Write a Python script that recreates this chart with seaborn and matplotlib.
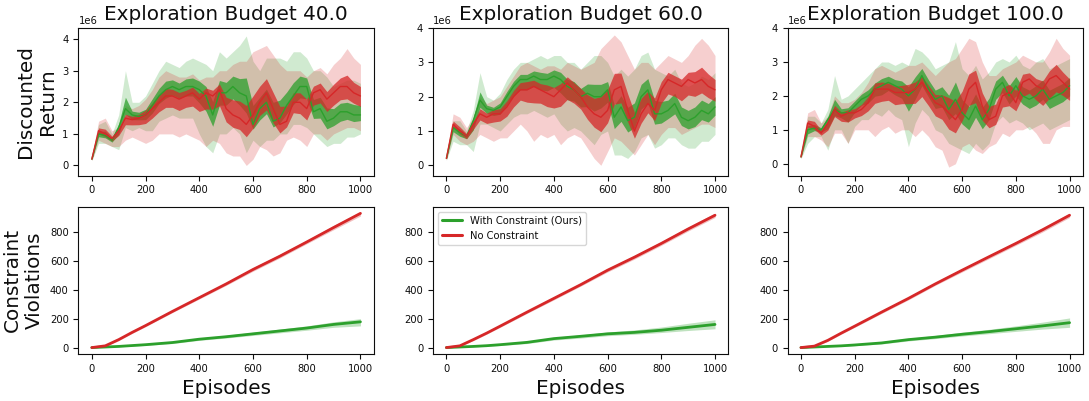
import matplotlib
matplotlib.use('Agg')
import matplotlib.pyplot as plt
import pandas as pd
import numpy as np
import seaborn as sns

sns.set_style('ticks')
plt.rcParams['font.family'] = ['DejaVu Sans']
plt.rcParams.update({'text.color': '.05', 'axes.labelcolor': '.05', 'xtick.color': '.05',
                     'ytick.color': '.05', 'axes.edgecolor': '.05'})

episodes_top = list(range(0, 1001, 25))
episodes_bot = [0, 50, 100, 150, 200, 300, 400, 500, 600, 700, 800, 900, 1000]

budgets = ['40.0', '60.0', '100.0']
methods = ['With Constraint (Ours)', 'No Constraint']
colors = {'With Constraint (Ours)': '#2ca02c', 'No Constraint': '#d62728'}

# discounted return, in millions (mean, lower envelope, upper envelope)
green_40_mean = [0.2, 1.0, 0.95, 0.8, 1.2, 1.8, 1.6, 1.55, 1.6, 1.9, 2.2, 2.4, 2.5, 2.4, 2.5, 2.5, 2.4, 2.2, 1.6, 2.3,
                 2.3, 2.5, 2.3, 2.2, 1.3, 1.8, 2.0, 1.4, 1.5, 1.9, 2.2, 2.5, 2.5, 1.7, 1.8, 1.4, 1.5, 1.7, 1.7, 1.6, 1.6]
green_40_lo = [0.15, 0.7, 0.7, 0.6, 0.5, 1.2, 1.1, 1.2, 1.1, 1.1, 1.4, 1.5, 1.6, 1.5, 1.5, 1.5, 1.0, 0.6, 0.4, 1.0,
               1.0, 1.2, 1.0, 0.4, 0.8, 0.6, 0.8, 0.8, 1.0, 1.0, 1.3, 1.3, 1.2, 1.0, 0.8, 0.6, 0.7, 0.7, 0.9, 0.9, 1.0]
green_40_hi = [0.3, 1.3, 1.4, 1.0, 1.6, 3.0, 2.0, 2.0, 2.2, 2.6, 3.0, 3.3, 3.2, 3.1, 3.3, 3.4, 3.3, 3.2, 3.0, 3.6,
               3.4, 3.6, 3.8, 4.1, 3.3, 3.0, 3.4, 3.4, 3.4, 3.3, 3.6, 3.6, 3.4, 3.0, 3.0, 2.8, 2.5, 2.6, 2.7, 2.7, 2.6]
red_40_mean = [0.2, 1.1, 1.0, 0.85, 1.1, 1.5, 1.45, 1.5, 1.6, 1.8, 2.0, 2.2, 2.2, 2.1, 2.2, 2.3, 2.1, 2.3, 2.2, 2.4,
               1.8, 1.6, 1.5, 1.3, 1.6, 2.0, 2.3, 1.8, 1.3, 1.4, 2.0, 2.0, 1.8, 2.3, 2.4, 2.1, 2.3, 2.5, 2.5, 2.3, 2.2]
red_40_lo = [0.15, 0.8, 0.7, 0.6, 0.6, 0.8, 0.9, 0.8, 0.7, 0.8, 1.0, 1.0, 1.0, 0.9, 1.0, 0.9, 0.8, 0.6, 0.8, 0.7,
             0.4, 0.3, 0.3, 0.0, 0.2, 0.6, 0.5, 0.3, 0.4, 0.8, 0.9, 0.8, 0.6, 1.0, 1.0, 0.8, 1.0, 1.1, 1.2, 1.2, 1.1]
red_40_hi = [0.3, 1.4, 1.5, 1.1, 1.2, 1.9, 1.8, 1.9, 2.1, 2.4, 2.8, 3.0, 2.9, 2.8, 2.8, 2.9, 2.7, 2.8, 2.8, 3.0,
             3.0, 3.2, 3.3, 3.3, 3.6, 3.7, 3.8, 3.5, 3.2, 3.0, 3.0, 3.0, 2.8, 3.0, 3.1, 2.9, 3.2, 3.4, 3.7, 3.4, 3.2]

green_60_mean = [0.2, 1.1, 0.95, 0.85, 1.3, 1.9, 1.65, 1.6, 1.7, 2.0, 2.3, 2.5, 2.5, 2.6, 2.5, 2.5, 2.6, 2.5, 2.3, 2.2,
                 2.0, 2.1, 2.0, 2.0, 2.2, 1.4, 1.7, 1.3, 1.4, 2.0, 2.2, 1.5, 1.5, 1.6, 1.8, 1.4, 1.3, 1.4, 1.6, 1.5, 1.7]
green_60_lo = [0.15, 0.7, 0.6, 0.6, 0.4, 1.2, 1.2, 1.1, 1.0, 1.2, 1.4, 1.5, 1.5, 1.6, 1.5, 1.4, 1.5, 1.2, 1.0, 1.1,
               1.0, 0.8, 0.6, 0.9, 1.0, 0.3, 0.3, 0.2, 0.4, 0.8, 0.9, 0.5, 0.6, 0.8, 0.8, 0.6, 0.5, 0.5, 0.7, 0.7, 0.9]
green_60_hi = [0.3, 1.3, 1.3, 1.0, 1.6, 2.7, 2.0, 1.9, 2.1, 2.5, 2.8, 3.0, 3.0, 3.1, 3.2, 3.1, 3.2, 3.2, 3.0, 3.0,
               2.8, 3.0, 3.2, 3.2, 3.0, 2.6, 2.8, 2.6, 2.8, 3.2, 3.3, 2.8, 2.7, 2.6, 2.8, 2.4, 2.3, 2.4, 2.6, 2.5, 2.7]
red_60_mean = [0.2, 1.2, 1.0, 0.85, 1.2, 1.5, 1.4, 1.5, 1.5, 1.7, 2.0, 2.2, 2.2, 2.3, 2.2, 2.1, 2.0, 2.2, 2.4, 2.2,
               2.0, 1.7, 1.5, 1.4, 1.6, 2.2, 2.3, 1.6, 1.0, 1.5, 1.8, 1.6, 2.2, 2.5, 2.4, 2.3, 2.5, 2.4, 2.5, 2.3, 2.2]
red_60_lo = [0.15, 0.9, 0.7, 0.6, 0.7, 0.9, 0.8, 0.7, 0.8, 0.8, 1.0, 1.2, 1.0, 0.7, 0.9, 0.8, 0.9, 0.6, 0.8, 0.9,
             0.8, 0.5, 0.2, 0.0, 0.4, 0.8, 0.7, 0.5, 0.3, 0.6, 0.9, 0.6, 0.9, 1.1, 1.1, 0.9, 1.0, 1.1, 1.2, 1.2, 1.1]
red_60_hi = [0.3, 1.5, 1.4, 1.1, 1.4, 2.0, 1.8, 1.9, 2.0, 2.3, 2.6, 2.9, 3.0, 2.9, 2.8, 2.9, 2.9, 2.8, 3.0, 2.9,
             2.8, 2.9, 3.0, 3.4, 3.6, 3.8, 3.6, 3.2, 2.8, 3.0, 3.0, 2.8, 3.0, 3.2, 3.1, 3.0, 3.2, 3.5, 3.7, 3.5, 3.2]

green_100_mean = [0.2, 1.0, 1.05, 1.0, 1.3, 1.6, 1.5, 1.5, 1.7, 1.9, 2.0, 2.2, 2.3, 2.4, 2.3, 2.2, 2.0, 2.2, 2.6, 2.2,
                  1.9, 2.0, 1.6, 1.9, 1.5, 1.3, 1.7, 1.3, 1.6, 2.2, 2.4, 2.0, 2.3, 2.0, 1.9, 2.0, 2.2, 1.9, 2.0, 2.1, 2.3]
green_100_lo = [0.15, 0.6, 0.8, 0.8, 0.4, 1.0, 1.0, 0.6, 1.1, 1.3, 1.3, 1.5, 1.4, 1.6, 1.4, 1.3, 0.5, 1.2, 1.6, 1.4,
                1.0, 0.9, 0.6, 0.5, 0.4, 0.3, 0.6, 0.4, 0.6, 1.2, 1.4, 1.2, 1.3, 1.2, 1.0, 1.1, 1.2, 1.0, 1.1, 1.2, 1.3]
green_100_hi = [0.3, 1.4, 1.4, 1.2, 1.6, 2.6, 1.9, 2.0, 2.2, 2.4, 2.6, 2.8, 3.0, 3.0, 2.9, 3.0, 2.9, 3.4, 3.3, 3.1,
                2.8, 2.9, 3.0, 3.6, 2.8, 2.6, 2.9, 2.5, 2.7, 3.0, 3.1, 3.0, 3.2, 2.9, 2.8, 3.0, 3.1, 2.8, 2.9, 3.0, 3.1]
red_100_mean = [0.2, 1.2, 1.1, 0.9, 1.2, 1.6, 1.4, 1.5, 1.5, 1.6, 1.8, 2.2, 2.2, 2.2, 2.1, 2.1, 2.1, 2.2, 2.4, 2.1,
                1.8, 1.7, 1.5, 1.3, 1.6, 2.2, 2.4, 1.7, 1.3, 1.4, 2.0, 2.1, 1.8, 2.4, 2.5, 2.3, 2.2, 2.5, 2.6, 2.4, 2.2]
red_100_lo = [0.15, 0.8, 0.8, 0.7, 0.5, 0.9, 0.9, 0.6, 1.0, 1.0, 1.0, 0.8, 1.0, 1.1, 0.9, 1.0, 1.0, 0.8, 1.0, 0.8,
              0.5, 0.4, -0.1, 0.0, 0.5, 0.6, 0.4, 0.3, 0.5, 0.6, 0.9, 0.8, 1.0, 1.0, 1.1, 0.9, 0.6, 0.6, 1.0, 1.1, 1.1]
red_100_hi = [0.3, 1.5, 1.6, 1.2, 1.4, 2.0, 1.8, 1.8, 1.9, 2.1, 2.4, 2.8, 2.9, 2.8, 2.7, 2.8, 2.9, 2.9, 3.0, 2.8,
              2.6, 2.8, 3.0, 3.1, 3.4, 3.7, 3.6, 3.0, 2.6, 2.6, 2.8, 2.9, 3.0, 3.2, 3.1, 3.0, 3.0, 3.3, 3.7, 3.4, 3.2]

# cumulative constraint violations (mean, lower, upper)
green_40_viol = [0, 4, 8, 14, 20, 35, 58, 75, 95, 115, 135, 160, 178]
green_40_viol_lo = [0, 2, 5, 10, 15, 28, 50, 66, 84, 102, 120, 140, 150]
green_40_viol_hi = [1, 6, 11, 18, 26, 42, 66, 85, 106, 128, 150, 178, 200]
red_40_viol = [0, 12, 55, 105, 152, 250, 345, 440, 540, 632, 730, 830, 928]
red_40_viol_lo = [0, 8, 48, 98, 145, 242, 336, 430, 528, 620, 718, 815, 910]
red_40_viol_hi = [2, 16, 62, 112, 160, 258, 354, 450, 552, 645, 742, 845, 940]

green_60_viol = [0, 4, 8, 13, 20, 36, 62, 78, 95, 105, 120, 140, 160]
green_60_viol_lo = [0, 2, 5, 9, 14, 28, 52, 66, 82, 92, 104, 118, 130]
green_60_viol_hi = [1, 6, 11, 17, 26, 44, 70, 88, 108, 122, 142, 168, 192]
red_60_viol = [0, 12, 55, 100, 148, 245, 340, 435, 535, 625, 720, 820, 915]
red_60_viol_lo = [0, 8, 48, 93, 140, 236, 330, 425, 523, 612, 707, 806, 900]
red_60_viol_hi = [2, 16, 62, 107, 156, 254, 350, 446, 546, 638, 733, 835, 930]

green_100_viol = [0, 4, 8, 12, 18, 32, 55, 72, 92, 110, 130, 150, 172]
green_100_viol_lo = [0, 2, 5, 8, 13, 25, 46, 62, 80, 96, 112, 128, 140]
green_100_viol_hi = [1, 6, 11, 16, 24, 40, 64, 84, 106, 126, 150, 176, 205]
red_100_viol = [0, 10, 50, 100, 148, 245, 340, 440, 535, 628, 720, 815, 915]
red_100_viol_lo = [0, 6, 43, 93, 140, 236, 330, 430, 523, 615, 707, 800, 900]
red_100_viol_hi = [2, 14, 57, 107, 156, 254, 350, 450, 547, 640, 733, 830, 930]

returns = {
    '40.0': {methods[0]: (green_40_lo, green_40_mean, green_40_hi), methods[1]: (red_40_lo, red_40_mean, red_40_hi)},
    '60.0': {methods[0]: (green_60_lo, green_60_mean, green_60_hi), methods[1]: (red_60_lo, red_60_mean, red_60_hi)},
    '100.0': {methods[0]: (green_100_lo, green_100_mean, green_100_hi), methods[1]: (red_100_lo, red_100_mean, red_100_hi)},
}
violations = {
    '40.0': {methods[0]: (green_40_viol_lo, green_40_viol, green_40_viol_hi), methods[1]: (red_40_viol_lo, red_40_viol, red_40_viol_hi)},
    '60.0': {methods[0]: (green_60_viol_lo, green_60_viol, green_60_viol_hi), methods[1]: (red_60_viol_lo, red_60_viol, red_60_viol_hi)},
    '100.0': {methods[0]: (green_100_viol_lo, green_100_viol, green_100_viol_hi), methods[1]: (red_100_viol_lo, red_100_viol, red_100_viol_hi)},
}

top_ylims = {'40.0': (-0.32e6, 4.35e6), '60.0': (-0.3e6, 4.0e6), '100.0': (-0.35e6, 4.0e6)}


def make_frame(x, series, scale=1.0):
    # three rows per episode (lower, mean, upper) so seaborn's median = mean, pi = band
    rows = []
    for method in methods:
        for vals in series[method]:
            for ep, v in zip(x, vals):
                rows.append({'episode': ep, 'value': v * scale, 'method': method})
    return pd.DataFrame(rows)


fig, axes = plt.subplots(2, 3, figsize=(10.89, 4.01), dpi=100)
fig.subplots_adjust(left=0.072, right=0.9945, top=0.930, bottom=0.117, wspace=0.2, hspace=0.21)

for j, b in enumerate(budgets):
    # top row: discounted return
    ax = axes[0, j]
    df = make_frame(episodes_top, returns[b], scale=1e6)
    sns.lineplot(data=df, x='episode', y='value', hue='method', hue_order=methods, palette=colors,
                 estimator='median', errorbar=('pi', 100), err_kws={'alpha': 0.22, 'linewidth': 0},
                 linewidth=0, legend=False, ax=ax)
    sns.lineplot(data=df, x='episode', y='value', hue='method', hue_order=methods, palette=colors,
                 estimator='median', errorbar=('pi', 30), err_kws={'alpha': 0.75, 'linewidth': 0},
                 linewidth=1.0, legend=False, ax=ax)
    ax.set_ylim(*top_ylims[b])
    ax.set_xlim(-50, 1050)
    ax.set_title(f'Exploration Budget {b}', fontsize=14.4)
    ax.set_xlabel('')
    ax.set_ylabel('')

    # bottom row: constraint violations
    ax = axes[1, j]
    df = make_frame(episodes_bot, violations[b])
    sns.lineplot(data=df, x='episode', y='value', hue='method', hue_order=methods, palette=colors,
                 estimator='median', errorbar=('pi', 100), err_kws={'alpha': 0.3, 'linewidth': 0},
                 linewidth=2.0, legend=(j == 1), ax=ax)
    ax.set_ylim(-45, 975)
    ax.set_xlim(-50, 1050)
    ax.set_xlabel('Episodes', fontsize=14.4)
    ax.set_ylabel('')
    if j == 1:
        leg = ax.legend(loc='upper left', fontsize=7.2, frameon=True)
        for line in leg.get_lines():
            line.set_linewidth(2.2)

for ax in axes.flat:
    ax.tick_params(labelsize=7.2)
    ax.yaxis.get_offset_text().set_fontsize(7.2)
    ax.set_xticks([0, 200, 400, 600, 800, 1000])

axes[0, 0].set_ylabel('Discounted\nReturn', fontsize=14.4)
axes[1, 0].set_ylabel('Constraint\nViolations', fontsize=14.4)

fig.savefig('out.png', dpi=100)
